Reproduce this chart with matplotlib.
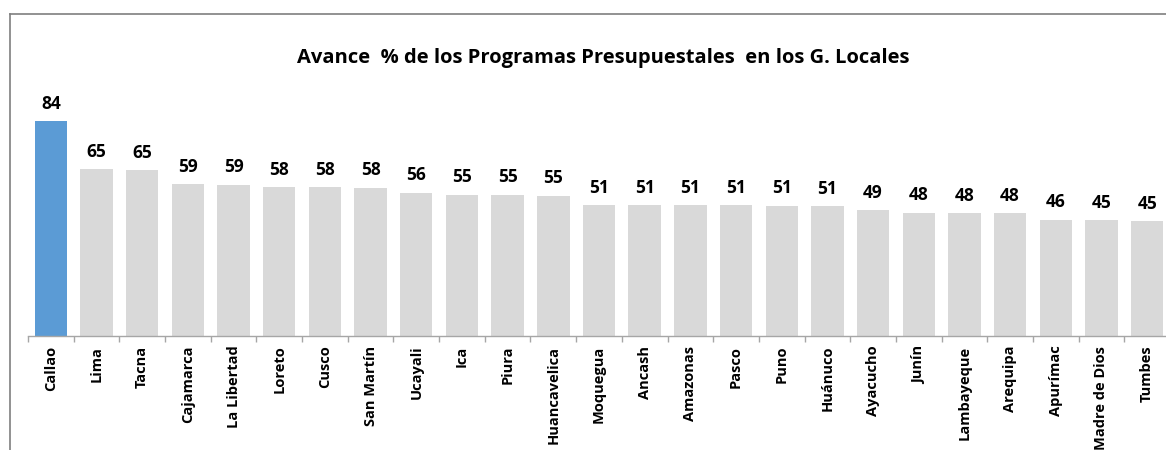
import matplotlib
matplotlib.use("Agg")
import matplotlib.pyplot as plt
from matplotlib.lines import Line2D

regiones = ["Callao", "Lima", "Tacna", "Cajamarca", "La Libertad", "Loreto", "Cusco",
            "San Martín", "Ucayali", "Ica", "Piura", "Huancavelica", "Moquegua", "Ancash",
            "Amazonas", "Pasco", "Puno", "Huánuco", "Ayacucho", "Junín", "Lambayeque",
            "Arequipa", "Apurímac", "Madre de Dios", "Tumbes"]
avance = [84.2, 65.4, 65.0, 59.4, 59.3, 58.4, 58.4, 58.1, 56.2, 55.4, 55.4, 55.0,
          51.2, 51.2, 51.2, 51.2, 51.0, 50.8, 49.2, 48.3, 48.2, 48.2, 45.6, 45.4, 45.1]
titulo = "Avance  % de los Programas Presupuestales  en los G. Locales"

plt.rcParams["font.family"] = ["Open Sans", "DejaVu Sans"]

W, H = 1166, 450
fig = plt.figure(figsize=(W / 100, H / 100), dpi=100)

# axes placement in pixel terms
x0, x1 = 28, 1170
y_base, y_top = 336, 80.7
ax = fig.add_axes([x0 / W, (H - y_base) / H, (x1 - x0) / W, (y_base - y_top) / H])

colores = ["#5B9BD5"] + ["#D9D9D9"] * (len(regiones) - 1)
pos = list(range(len(regiones)))
ax.bar(pos, avance, width=0.71, color=colores, edgecolor="none")

for x, v in zip(pos, avance):
    ax.annotate(f"{v:.0f}", (x, v), xytext=(0, 6), textcoords="offset points",
                ha="center", va="bottom", fontsize=12.5, fontweight="bold", color="#000000")

ax.set_xlim(-0.5, len(regiones) - 0.5)
ax.set_ylim(0, 100)
ax.set_yticks([])
for s in ["top", "right", "left"]:
    ax.spines[s].set_visible(False)
ax.spines["bottom"].set_color("#A6A6A6")
ax.spines["bottom"].set_linewidth(1.0)

# category labels centred under bars, tick marks between categories
ax.set_xticks(pos)
ax.set_xticklabels(regiones, rotation=90, fontsize=10.5, fontweight="bold")
ax.tick_params(axis="x", which="major", length=0, pad=7)
ax.set_xticks([p - 0.5 for p in pos] + [len(regiones) - 0.5], minor=True)
ax.tick_params(axis="x", which="minor", length=4, color="#A6A6A6", width=1.0)

fig.text(603 / W, 1 - 58 / H, titulo, ha="center", va="center",
         fontsize=14.5, fontweight="bold", color="#000000")

# chart frame (left and top edges)
fig.add_artist(Line2D([10 / W, 10 / W], [0, 1 - 13.5 / H], transform=fig.transFigure,
                      color="#7F7F7F", linewidth=1.2))
fig.add_artist(Line2D([10 / W, 1], [1 - 13.5 / H, 1 - 13.5 / H], transform=fig.transFigure,
                      color="#7F7F7F", linewidth=1.2))

fig.savefig("out.png", dpi=100, facecolor="white")
